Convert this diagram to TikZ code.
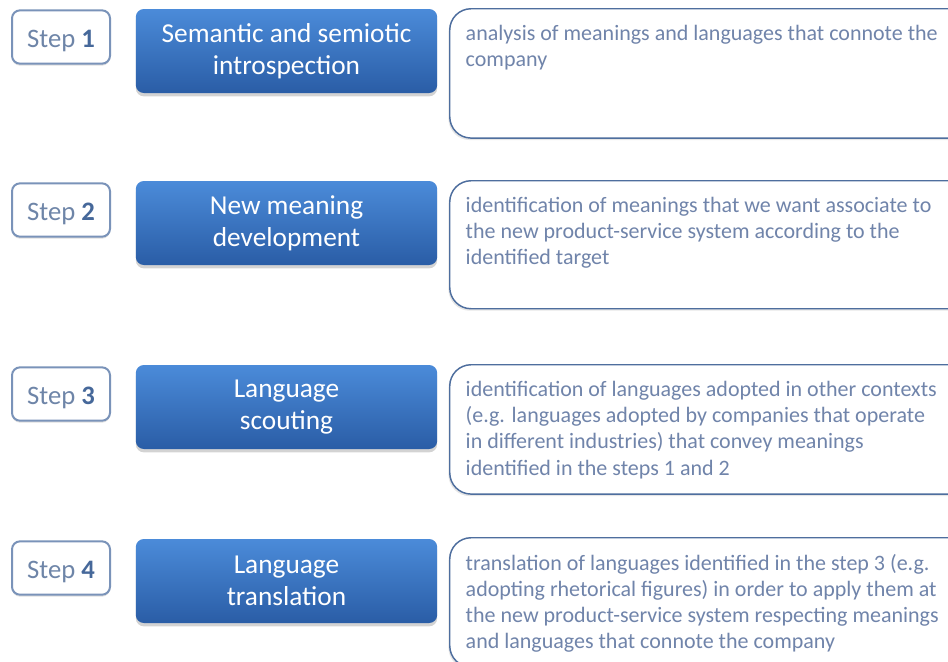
\documentclass[tikz,border=0pt]{standalone}
\usepackage{fontspec}
\setmainfont{Carlito}
\usetikzlibrary{shadows}

\definecolor{stepline}{HTML}{7A93B9}
\definecolor{steptext}{HTML}{6E85A8}
\definecolor{stepnum}{HTML}{46689A}
\definecolor{phasetop}{HTML}{4B8BD9}
\definecolor{phasebot}{HTML}{2A5DA6}
\definecolor{descline}{HTML}{4E6E9E}
\definecolor{desctext}{HTML}{7084AA}

\tikzset{every picture/.style={line width=0.75pt}}
\tikzset{
  stepbox/.style={draw=stepline, line width=1.5pt, fill=white, rounded corners=6pt,
    minimum width=73.5pt, minimum height=40pt, inner sep=0.75pt,
    text height=18pt, text depth=2pt,
    drop shadow={shadow xshift=0pt, shadow yshift=-1.5pt, opacity=0.25},
    font=\fontsize{20}{22}\selectfont, text=steptext},
  phasebox/.style={rounded corners=6pt, top color=phasetop, bottom color=phasebot, draw=none,
    minimum width=226pt, minimum height=63pt, inner sep=0.75pt, align=center,
    drop shadow={shadow xshift=0pt, shadow yshift=-2.5pt, opacity=0.35},
    font=\fontsize{20.5}{24}\selectfont, text=white},
  descbox/.style={draw=descline, line width=1.1pt, fill=white, rounded corners=16pt,
    anchor=north west, inner xsep=12pt, inner ysep=12.5pt,
    drop shadow={shadow xshift=-1pt, shadow yshift=-1.5pt, opacity=0.2},
    font=\fontsize{16.5}{19.6}\selectfont, text=desctext},
}
\newcommand{\desctxt}[2]{\parbox[t][#1][t]{400pt}{#2}}

\begin{document}
\begin{tikzpicture}[x=0.75pt,y=0.75pt,yscale=-1,xscale=1]
\useasboundingbox (0,0) rectangle (948,661);

% Step 1
\draw (61,37) node [stepbox] (step1) {Step \textbf{\textcolor{stepnum}{1}}};
\draw (286.5,51) node [phasebox] (phase1) {Semantic and semiotic\\introspection};
\draw (449,8) node [descbox] (desc1) {\desctxt{72pt}{analysis of meanings and languages that connote the\\company}};

% Step 2
\draw (61,210) node [stepbox] (step2) {Step \textbf{\textcolor{stepnum}{2}}};
\draw (286.5,223) node [phasebox] (phase2) {New meaning\\development};
\draw (449,180) node [descbox] (desc2) {\desctxt{71pt}{identification of meanings that we want associate to\\the new product-service system according to the\\identified target}};

% Step 3
\draw (61,394) node [stepbox] (step3) {Step \textbf{\textcolor{stepnum}{3}}};
\draw (286.5,407) node [phasebox] (phase3) {Language\\scouting};
\draw (449,364) node [descbox] (desc3) {\desctxt{72pt}{identification of languages adopted in other contexts\\(e.g. languages adopted by companies that operate\\in different industries) that convey meanings\\identified in the steps 1 and 2}};

% Step 4
\draw (61,568) node [stepbox] (step4) {Step \textbf{\textcolor{stepnum}{4}}};
\draw (286.5,581) node [phasebox] (phase4) {Language\\translation};
\draw (449,537) node [descbox] (desc4) {\desctxt{72pt}{translation of languages identified in the step 3 (e.g.\\adopting rhetorical figures) in order to apply them at\\the new product-service system respecting meanings\\and languages that connote the company}};

\end{tikzpicture}
\end{document}
